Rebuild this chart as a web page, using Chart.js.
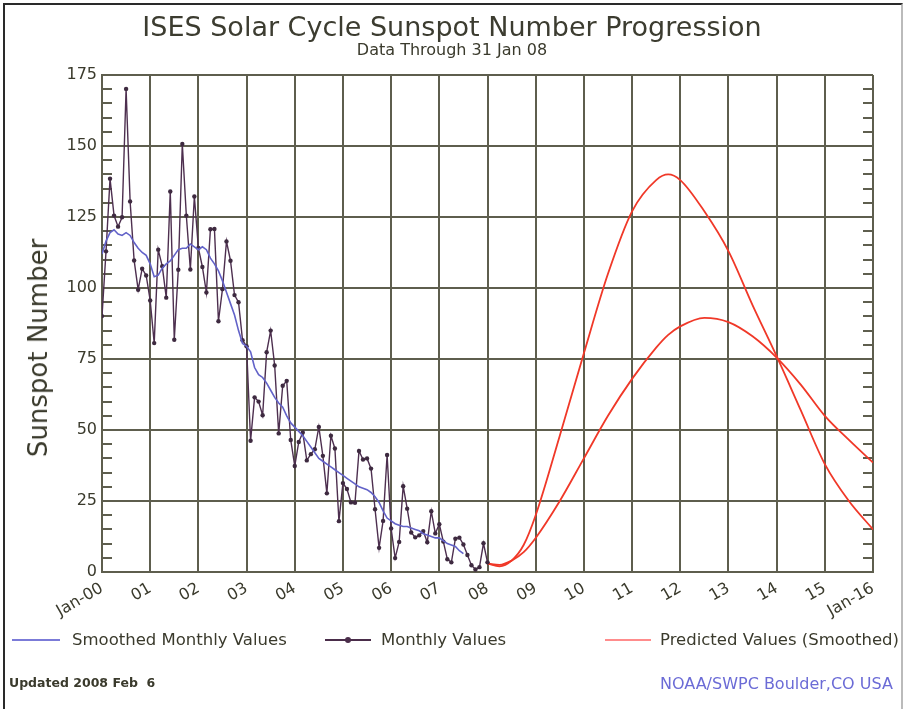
<!DOCTYPE html>
<html>
<head>
<meta charset="utf-8">
<script src="https://cdn.jsdelivr.net/npm/chart.js@4"></script>
<style>
  html, body { margin:0; padding:0; background:#fff; }
  #wrap { position:relative; width:904px; height:714px; overflow:hidden; background:#fff; font-family:"DejaVu Sans", sans-serif; color:#3a3a2c; }
  #c { position:absolute; left:0; top:0; }
  .t { position:absolute; white-space:pre; line-height:1; }
  .frame { position:absolute; left:3px; top:3px; width:896px; height:704px; border:2px solid #2a2a2a; border-bottom:none; border-right-color:#bbb; }
  .lg { position:absolute; height:2px; }
  #ytitle { position:absolute; left:38px; top:348px; transform:translate(-50%,-50%) rotate(-90deg); white-space:nowrap; font-size:26px; line-height:1; color:#3a3a2c; }
</style>
</head>
<body>
<div id="wrap">
  <div class="frame"></div>
  <canvas id="c" width="904" height="714"></canvas>
  <div class="t" id="title" style="left:0;width:904px;text-align:center;top:13px;font-size:27px;color:#3c3c30;">ISES Solar Cycle Sunspot Number Progression</div>
  <div class="t" id="sub" style="left:0;width:904px;text-align:center;top:42px;font-size:16px;">Data Through 31 Jan 08</div>
  <div id="ytitle">Sunspot Number</div>

  <div class="lg" style="left:12px;top:639px;width:48px;background:#7b7bd8;"></div>
  <div class="t" style="left:72px;top:632px;font-size:16.5px;">Smoothed Monthly Values</div>
  <div class="lg" style="left:325px;top:639px;width:46px;background:#4a2d4a;"></div>
  <div style="position:absolute;left:345px;top:637px;width:6px;height:6px;border-radius:3px;background:#4a2d4a;"></div>
  <div class="t" style="left:381px;top:632px;font-size:16.5px;">Monthly Values</div>
  <div class="lg" style="left:605px;top:639px;width:46px;background:#ff8c8c;"></div>
  <div class="t" style="left:660px;top:632px;font-size:16.5px;">Predicted Values (Smoothed)</div>

  <div class="t" style="left:9px;top:677px;font-size:12.5px;font-weight:bold;">Updated 2008 Feb  6</div>
  <div class="t" style="left:660px;top:676px;font-size:16px;color:#6b6bd6;">NOAA/SWPC Boulder,CO USA</div>
</div>
<script>
// ---- Data ----
// Monthly values, one per month from Jan 2000 to Jan 2008
const monthlyValues = [
  90.1,112.9,138.5,125.5,121.6,124.9,170.1,130.5,109.7,99.4,106.8,104.4,
  95.6,80.6,113.5,107.7,96.6,134.0,81.8,106.4,150.7,125.5,106.5,132.2,
  114.1,107.4,98.4,120.7,120.8,88.3,99.6,116.4,109.6,97.5,95.0,81.6,
  79.5,46.2,61.5,60.0,55.2,77.4,85.0,72.7,48.8,65.6,67.3,46.5,
  37.3,45.8,49.1,39.3,41.5,43.2,51.1,40.9,27.7,48.0,43.5,17.9,
  31.3,29.2,24.5,24.4,42.6,39.6,40.0,36.4,22.1,8.5,18.0,41.2,
  15.3,4.9,10.6,30.2,22.3,13.9,12.2,12.9,14.4,10.5,21.4,13.6,
  16.8,10.7,4.5,3.4,11.7,12.1,9.7,6.0,2.4,0.9,1.7,10.1,
  3.4
];
// Smoothed monthly values, one per month from Jan 2000 to Jul 2007
const smoothedValues = [
  112,116.5,119.5,120.5,119,118.5,119.5,118.5,116,114,112.5,111.5,
  108.5,104,104.5,107,108.5,109.5,111.5,113.5,114,114,115.5,114.5,
  113.5,114.5,113.5,110.5,108.5,106,102.5,98.5,94.5,90.5,85,80.5,
  79.5,77.5,72,69.5,68.5,66.5,64,61.5,59.5,58,55,52.5,
  51,49.5,48,46,44,42,40,39,38,37,36,35,
  34,33,32,31,30,29.5,29,28,26.5,24.5,21.5,19,
  18,17,16.5,16,16,15.5,15,14.5,13.5,13,12.5,12,
  12,11,10,9.5,9,7.5,6.5
];
// Predicted (smoothed) values: years since Jan 2000, high and low predictions
const predYears = [8.0,8.25,8.5,8.75,9.0,9.5,10.0,10.5,11.0,11.5,11.75,12.0,12.5,13.0,13.5,14.0,14.5,15.0,15.5,16.0];
const predHigh  = [3,  2,   4,  9.5, 20, 48, 77, 105,127,138,140, 138,127,113, 94, 76, 57, 38, 25, 15];
const predLow   = [3,  2.5, 4,  7,   12, 25, 40, 55, 68, 79, 83.5, 86.5,89.5,88, 83, 75.5,66, 55, 46.5,38.5];
// Tick labels
const xTickLabels = ['Jan-00','01','02','03','04','05','06','07','08','09','10','11','12','13','14','15','Jan-16'];
const yTickValues = [0,25,50,75,100,125,150,175];

const GRID = '#5e5e4e';
const TXT = '#3a3a2c';
const monthPts = arr => arr.map((v,i)=>({x:i/12, y:v}));
const predPts = arr => arr.map((v,i)=>({x:predYears[i], y:v}));

const minorTicks = {
  id:'minorTicks',
  beforeDatasetsDraw(chart){
    const ys = chart.scales.y, {left,right} = chart.chartArea, ctx = chart.ctx;
    ctx.save(); ctx.strokeStyle = GRID; ctx.lineWidth = 2;
    for (let v=5; v<175; v+=5){
      if (v%25===0) continue;
      const py = Math.round(ys.getPixelForValue(v));
      ctx.beginPath(); ctx.moveTo(left,py); ctx.lineTo(left+10,py);
      ctx.moveTo(right-10,py); ctx.lineTo(right,py); ctx.stroke();
    }
    ctx.restore();
  }
};

new Chart(document.getElementById('c'), {
  type:'line',
  data:{ datasets:[
    {label:'Smoothed Monthly Values', data:monthPts(smoothedValues), borderColor:'#6262c8', borderWidth:1.6, pointRadius:0, tension:0},
    {label:'Monthly Values', data:monthPts(monthlyValues), borderColor:'#4d2f4f', backgroundColor:'#3e2a40', borderWidth:1.4, pointRadius:2.2, pointBorderWidth:0, tension:0},
    {label:'Predicted High', data:predPts(predHigh), borderColor:'#f03828', borderWidth:1.8, pointRadius:0, cubicInterpolationMode:'monotone'},
    {label:'Predicted Low', data:predPts(predLow), borderColor:'#f03828', borderWidth:1.8, pointRadius:0, cubicInterpolationMode:'monotone'}
  ]},
  options:{
    responsive:false, animation:false, devicePixelRatio:1,
    layout:{ padding:{ left:0, top:75, right:31, bottom:0 } },
    plugins:{ legend:{display:false}, tooltip:{enabled:false}, title:{display:false} },
    scales:{
      x:{ type:'linear', min:0, max:16,
        afterFit(s){ s.height = 142; },
        afterBuildTicks(s){ s.ticks = xTickLabels.map((_,i)=>({value:i})); },
        ticks:{ stepSize:1, autoSkip:false, minRotation:30, maxRotation:30, padding:7,
          color:TXT, font:{family:'DejaVu Sans', size:16},
          callback:(v)=> xTickLabels[Math.round(v)] },
        grid:{ color:GRID, lineWidth:2, drawTicks:false },
        border:{ color:GRID, width:2 }
      },
      y:{ min:0, max:175,
        afterFit(s){ s.width = 102; },
        afterBuildTicks(s){ s.ticks = yTickValues.map(v=>({value:v})); },
        ticks:{ stepSize:25, padding:5, color:TXT, font:{family:'DejaVu Sans', size:16} },
        grid:{ color:GRID, lineWidth:2, drawTicks:false },
        border:{ color:GRID, width:2 }
      }
    }
  },
  plugins:[minorTicks]
});
</script>
</body>
</html>
